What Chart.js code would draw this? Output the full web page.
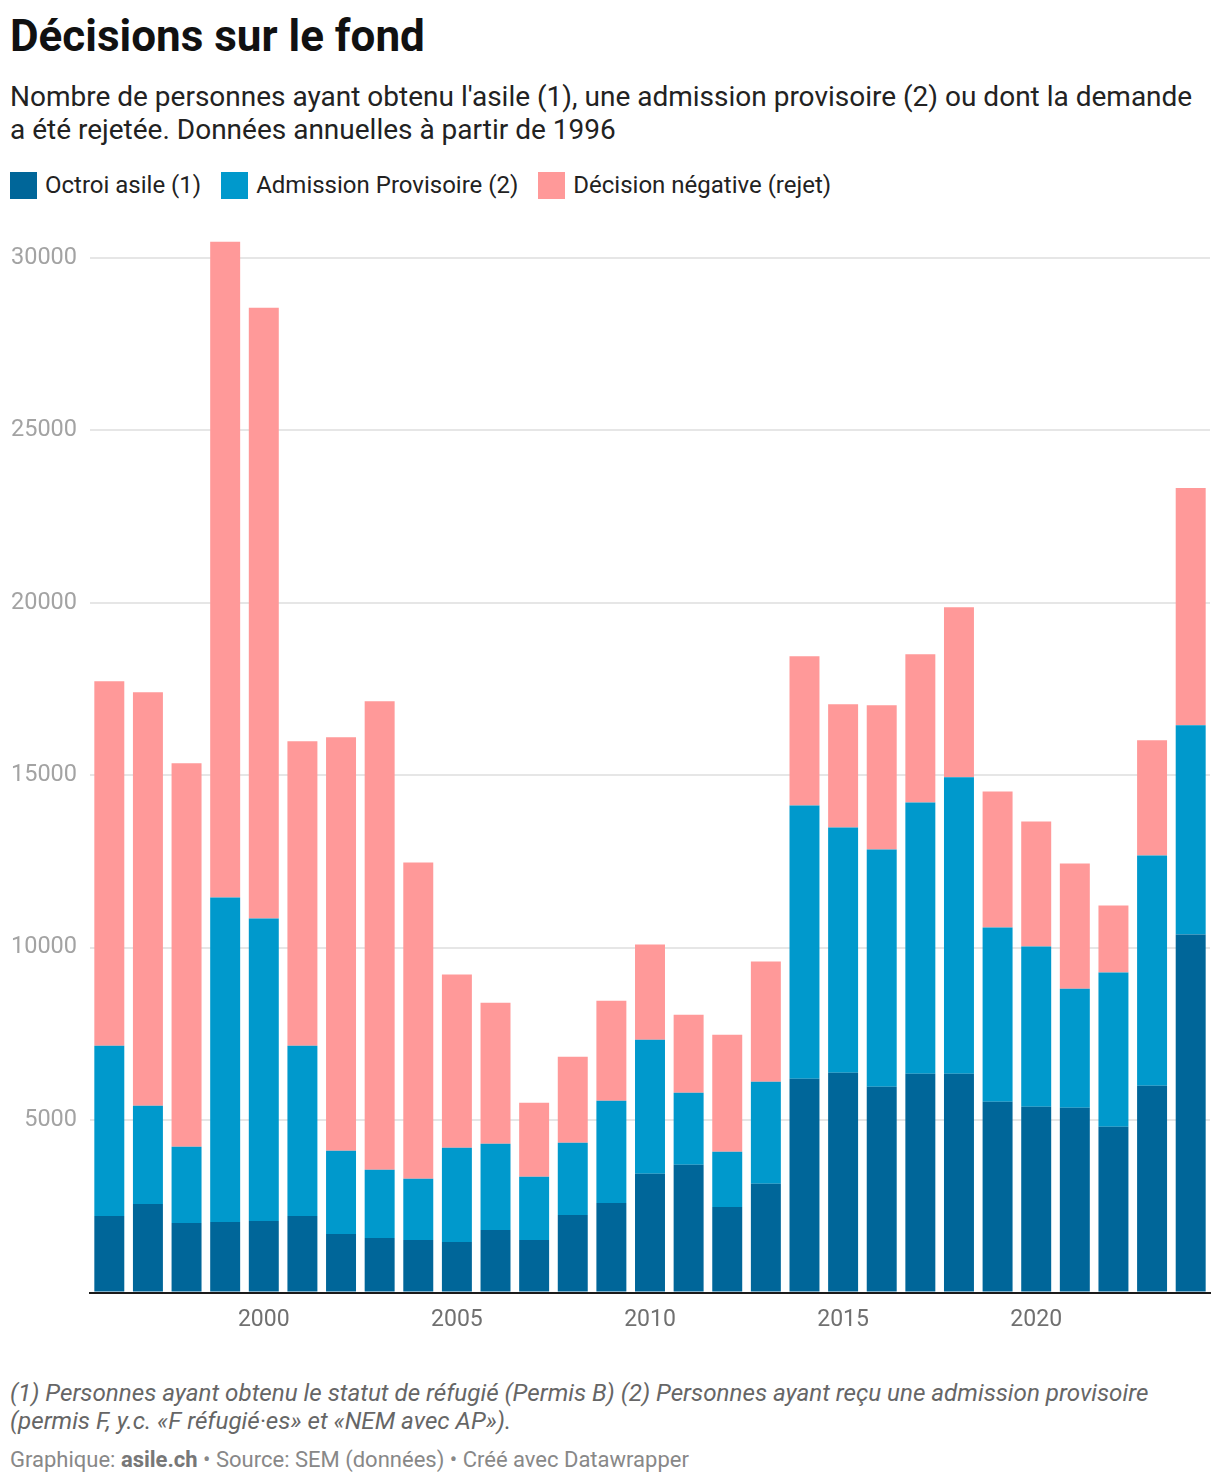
<!DOCTYPE html>
<html lang="fr">
<head>
<meta charset="utf-8">
<script src="https://cdn.jsdelivr.net/npm/chart.js@4"></script>
<style>
  html, body { margin:0; padding:0; background:#fff; }
  body { width:1220px; height:1482px; position:relative; font-family: Roboto, "Noto Sans", sans-serif; overflow:hidden; }
  .abs { position:absolute; left:10px; white-space:nowrap; }
  #title { top:14px; font-weight:700; font-size:44px; line-height:44px; color:#111; }
  #subtitle { top:80px; font-size:28px; line-height:33px; color:#222; }
  #legend { top:172px; display:flex; align-items:center; font-size:24px; line-height:27px; color:#222; }
  .item { display:flex; align-items:center; margin-right:20px; }
  .sw { width:27px; height:27px; margin-right:8px; }
  #chartwrap { position:absolute; left:0; top:230px; width:1220px; height:1120px; }
  #note { top:1379px; font-size:24.2px; line-height:28px; font-style:italic; color:#666; }
  #source { top:1446px; font-size:22px; line-height:28px; color:#888; }
  #source b { color:#777; }
</style>
</head>
<body>
<div id="title" class="abs">Décisions sur le fond</div>
<div id="subtitle" class="abs">Nombre de personnes ayant obtenu l'asile (1), une admission provisoire (2) ou dont la demande<br>a été rejetée. Données annuelles à partir de 1996</div>
<div id="legend" class="abs"></div>
<div id="chartwrap"><canvas id="c" width="1220" height="1120"></canvas></div>
<div id="note" class="abs">(1) Personnes ayant obtenu le statut de réfugié (Permis B) (2) Personnes ayant reçu une admission provisoire<br>(permis F, y.c. «F réfugié·es» et «NEM avec AP»).</div>
<div id="source" class="abs">Graphique: <b>asile.ch</b> • Source: SEM (données) • Créé avec Datawrapper</div>
<script>
const years = [1996,1997,1998,1999,2000,2001,2002,2003,2004,2005,2006,2007,2008,2009,2010,
               2011,2012,2013,2014,2015,2016,2017,2018,2019,2020,2021,2022,2023,2024];
const seriesNames = ["Octroi asile (1)", "Admission Provisoire (2)", "Décision négative (rejet)"];
const seriesColors = ["#006699", "#0099cc", "#ff9999"];
const octroiAsile = [2221,2569,2017,2046,2075,2221,1698,1582,1524,1466,1814,1524,2250,2598,3440,
                     3701,2482,3150,6197,6372,5965,6343,6343,5530,5385,5356,4804,5994,10377];
const admissionProvisoire = [4934,2845,2207,9405,8767,4934,2409,1974,1771,2728,2497,1829,2090,2961,3890,
                     2090,1596,2960,7925,7111,6880,7866,8592,5051,4644,3454,4470,6677,6067];
const decisionNegative = [10566,11988,11117,19014,17707,8825,11989,13585,9172,5022,4092,2148,2496,2903,2757,
                     2264,3397,3484,4325,3571,4180,4296,4934,3947,3629,3628,1945,3338,6880];
const yTicks = [0,5000,10000,15000,20000,25000,30000];
const xTickYears = [2000,2005,2010,2015,2020];

const leg = document.getElementById('legend');
seriesNames.forEach((n,i) => {
  const it = document.createElement('div'); it.className = 'item';
  const sw = document.createElement('div'); sw.className = 'sw'; sw.style.background = seriesColors[i];
  const tx = document.createElement('span'); tx.textContent = n;
  it.appendChild(sw); it.appendChild(tx); leg.appendChild(it);
});

const values = [octroiAsile, admissionProvisoire, decisionNegative];
const datasets = values.map((v,i) => ({
  label: seriesNames[i], data: v, backgroundColor: seriesColors[i],
  borderWidth: 0, barPercentage: 0.776, categoryPercentage: 1.0
}));

new Chart(document.getElementById('c'), {
  type: 'bar',
  data: { labels: years.map(String), datasets },
  options: {
    responsive: false, animation: false,
    devicePixelRatio: 1,
    layout: { padding: { top: 10.5, right: 10, left: 0, bottom: 0 } },
    plugins: { legend: { display: false }, tooltip: { enabled: false } },
    scales: {
      x: {
        stacked: true,
        grid: { display: false },
        border: { display: true, color: '#1a1a1a', width: 2, z: 1 },
        ticks: {
          autoSkip: false, maxRotation: 0, padding: 6,
          color: '#707070', font: { family: 'Roboto', size: 23 },
          callback: function(val, idx) { const y = years[idx]; return xTickYears.includes(y) ? String(y) : ''; }
        },
        afterFit: s => { s.height = 57.5; }
      },
      y: {
        stacked: true, min: 0, max: 30500,
        grid: { color: '#e6e6e6', lineWidth: 2, tickColor: 'rgba(0,0,0,0)', tickLength: 8 },
        border: { display: false },
        ticks: {
          padding: 5,
          color: '#a3a3a3', font: { family: 'Roboto', size: 23.5 },
          callback: v => (v === 0 ? '' : String(v))
        },
        afterBuildTicks: s => { s.ticks = yTicks.map(v => ({ value: v })); },
        afterFit: s => { s.width = 90; s.paddingTop = 0; s.paddingBottom = 0; }
      }
    }
  }
});
</script>
</body>
</html>
